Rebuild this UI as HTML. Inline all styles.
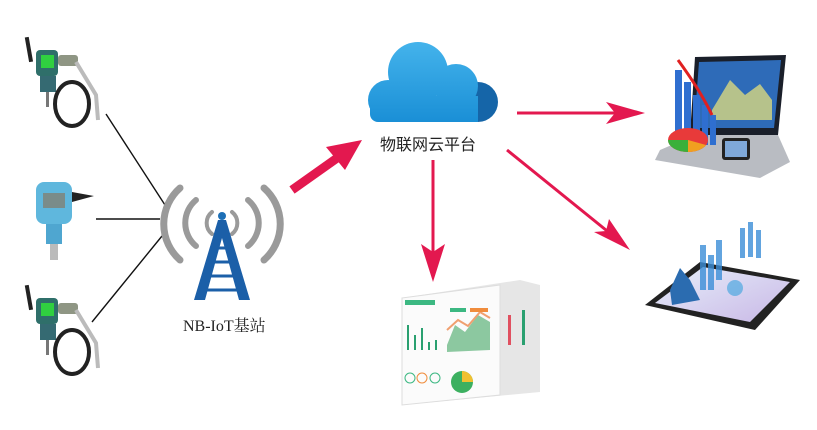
<!DOCTYPE html>
<html><head><meta charset="utf-8"><style>
html,body{margin:0;padding:0;background:#fff;width:817px;height:430px;overflow:hidden}
svg{display:block}
text{font-family:"Liberation Serif","Noto Serif CJK SC",serif}
</style></head><body>
<svg width="817" height="430" viewBox="0 0 817 430" xmlns="http://www.w3.org/2000/svg">
<defs>
<linearGradient id="cl" gradientUnits="userSpaceOnUse" x1="0" y1="40" x2="0" y2="122"><stop offset="0" stop-color="#45b4ec"/><stop offset="1" stop-color="#1a8fd6"/></linearGradient>
<linearGradient id="ph" x1="0" y1="0" x2="1" y2="1"><stop offset="0" stop-color="#e6eefa"/><stop offset="1" stop-color="#c9b8e6"/></linearGradient>
</defs>
<g stroke="#111" stroke-width="1.4">
<line x1="106" y1="114" x2="165" y2="205"/>
<line x1="96" y1="219" x2="160" y2="219"/>
<line x1="162" y1="236" x2="92" y2="322"/>
</g>
<g id="s1">
<rect x="27" y="37" width="4" height="25" fill="#222" transform="rotate(-10 29 50)"/>
<rect x="36" y="50" width="22" height="26" rx="4" fill="#2f6f6a"/>
<rect x="41" y="55" width="13" height="13" fill="#30d040"/>
<rect x="58" y="55" width="20" height="11" rx="3" fill="#8f9684"/>
<rect x="40" y="76" width="16" height="16" fill="#356a72"/>
<rect x="46" y="92" width="3" height="15" fill="#777"/>
<ellipse cx="72" cy="104" rx="17" ry="22" fill="none" stroke="#222" stroke-width="4"/>
<path d="M76 62 L96 95 L98 120" stroke="#bbb" stroke-width="4" fill="none"/>
</g>
<use href="#s1" transform="translate(0,248)"/>
<rect x="36" y="182" width="36" height="42" rx="8" fill="#5fb7dd"/>
<rect x="43" y="193" width="22" height="15" fill="#7a8c8a"/>
<path d="M72 192 L94 196 L72 202 Z" fill="#222"/>
<rect x="46" y="224" width="16" height="20" fill="#4fa6d0"/>
<rect x="50" y="244" width="8" height="16" fill="#bbb"/>
<g fill="none" stroke="#9a9a9a" stroke-linecap="round">
<path d="M212 212 a14 14 0 0 0 0 22" stroke-width="4"/>
<path d="M232 212 a14 14 0 0 1 0 22" stroke-width="4"/>
<path d="M196 200 a30 30 0 0 0 0 46" stroke-width="6"/>
<path d="M248 200 a30 30 0 0 1 0 46" stroke-width="6"/>
<path d="M180 188 a48 48 0 0 0 0 72" stroke-width="7"/>
<path d="M264 188 a48 48 0 0 1 0 72" stroke-width="7"/>
</g>
<circle cx="222" cy="216" r="4" fill="#1d6fb6"/>
<path d="M218 220 L226 220 L250 300 L239 300 L222 238 L205 300 L194 300 Z" fill="#1b5fa8"/>
<g stroke="#1b5fa8" stroke-width="3">
<line x1="214" y1="248" x2="230" y2="248"/><line x1="210" y1="262" x2="234" y2="262"/>
<line x1="206" y1="276" x2="238" y2="276"/><line x1="202" y1="290" x2="242" y2="290"/>
</g>
<text x="183" y="331" font-size="16" fill="#222">NB-IoT基站</text>
<path d="M292 190 L340 156" stroke="#e3184f" stroke-width="9"/>
<path d="M362 140 L326 147 L345 170 Z" fill="#e3184f"/>
<g>
<circle cx="478" cy="102" r="20" fill="#1565a8"/>
<g fill="url(#cl)">
<circle cx="388" cy="100" r="20"/>
<circle cx="418" cy="72" r="30"/>
<circle cx="456" cy="86" r="22"/>
<rect x="378" y="96" width="100" height="26"/>
<rect x="370" y="100" width="20" height="22" rx="8"/>
</g>
</g>
<text x="380" y="150" font-size="16" fill="#222" style="font-family:'Noto Sans CJK SC',sans-serif">物联网云平台</text>
<g stroke="#e3184f" stroke-width="3" fill="#e3184f">
<line x1="517" y1="113" x2="635" y2="113"/>
<line x1="507" y1="150" x2="622" y2="243"/>
<line x1="433" y1="160" x2="433" y2="275"/>
</g>
<path d="M645 113 L606 102 L615 113 L606 124 Z" fill="#e3184f"/>
<path d="M630 250 L594 232 L606 231 L609 219 Z" fill="#e3184f"/>
<path d="M433 282 L421 244 L433 252 L445 244 Z" fill="#e3184f"/>
<path d="M695 57 L786 55 L778 135 L690 135 Z" fill="#1a1f2a"/>
<path d="M699 62 L781 60 L774 128 L694 128 Z" fill="#2e6bb8"/>
<path d="M712 110 L730 80 L745 95 L760 84 L772 100 L772 120 L712 120 Z" fill="#d8d880" opacity=".8"/>
<path d="M660 150 L695 135 L778 135 L790 162 L760 178 L655 160 Z" fill="#b9bcc2"/>
<g fill="#2f6fd0"><rect x="675" y="70" width="7" height="75"/><rect x="684" y="82" width="7" height="63"/><rect x="693" y="95" width="7" height="50"/><rect x="702" y="105" width="6" height="40"/><rect x="710" y="115" width="6" height="30"/></g>
<path d="M678 60 Q700 90 712 115" stroke="#e02020" stroke-width="3" fill="none"/>
<ellipse cx="688" cy="140" rx="20" ry="12" fill="#e83a3a"/>
<path d="M688 140 L668 140 A20 12 0 0 0 688 152 Z" fill="#3ab03a"/>
<path d="M688 140 L688 152 A20 12 0 0 0 706 145 Z" fill="#f0a020"/>
<rect x="722" y="138" width="28" height="22" rx="3" fill="#222"/>
<rect x="725" y="141" width="22" height="16" fill="#7fa8d8"/>
<path d="M645 305 L700 262 L800 280 L755 330 Z" fill="#222"/>
<path d="M655 303 L703 267 L790 282 L750 322 Z" fill="url(#ph)"/>
<g fill="#3b8ed8" opacity=".8"><rect x="700" y="245" width="6" height="45"/><rect x="708" y="255" width="6" height="35"/><rect x="716" y="240" width="6" height="40"/><rect x="740" y="228" width="5" height="30"/><rect x="748" y="222" width="5" height="35"/><rect x="756" y="230" width="5" height="28"/></g>
<path d="M670 290 L680 268 L690 280 L700 300 L672 305 Z" fill="#2b6cb0"/>
<circle cx="735" cy="288" r="8" fill="#4fa8e0" opacity=".7"/>
<path d="M402 298 L520 280 L540 285 L540 392 L402 405 Z" fill="#e6e6e6"/>
<path d="M402 298 L500 285 L500 395 L402 405 Z" fill="#fbfbfb" stroke="#ddd"/>
<rect x="405" y="300" width="30" height="5" fill="#3cb882"/>
<g fill="#2aa070"><rect x="407" y="325" width="2" height="25"/><rect x="414" y="335" width="2" height="15"/><rect x="421" y="328" width="2" height="22"/><rect x="428" y="342" width="2" height="8"/><rect x="435" y="340" width="2" height="10"/></g>
<path d="M447 345 L455 325 L465 332 L478 315 L490 322 L490 350 L447 352 Z" fill="#8cc8a0"/>
<path d="M447 330 L458 320 L468 326 L480 312 L490 318" stroke="#f0a070" stroke-width="2" fill="none"/>
<rect x="470" y="308" width="18" height="4" fill="#f08c3c"/>
<rect x="450" y="308" width="16" height="4" fill="#3cb882"/>
<rect x="508" y="315" width="3" height="30" fill="#e05060"/>
<rect x="522" y="310" width="3" height="35" fill="#2aa070"/>
<circle cx="462" cy="382" r="11" fill="#3cb060"/>
<path d="M462 382 L462 371 A11 11 0 0 1 473 382 Z" fill="#f0c030"/>
<circle cx="410" cy="378" r="5" fill="none" stroke="#3cb882"/><circle cx="422" cy="378" r="5" fill="none" stroke="#f08c3c"/><circle cx="435" cy="378" r="5" fill="none" stroke="#3cb882"/>
</svg>
</body></html>
